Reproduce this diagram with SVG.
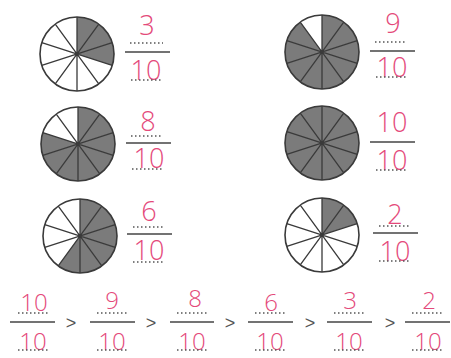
<svg xmlns="http://www.w3.org/2000/svg" width="451" height="358" viewBox="0 0 451 358">
<style>
.bg{fill:#fff}
.rim{fill:none;stroke:#3a3a3a;stroke-width:1.6}
.face{fill:#fff}
.sh{fill:#7b7b7b}
.sp{fill:none;stroke:#3a3a3a;stroke-width:1.3}
.bar{stroke:#444;stroke-width:1.6}
.dot{stroke:#555;stroke-width:1.6;stroke-dasharray:1.5 2.5}
.hw{font-family:"Open Sans",Lato,"DejaVu Sans",sans-serif;font-weight:300;fill:#e4497a;text-anchor:middle}
.big{font-size:27px}
.sm{font-size:24px}
.gt{font-family:"Liberation Sans",Arial,sans-serif;font-size:18px;fill:#555;text-anchor:middle}
</style>
<defs>
<path id="w" d="M0,0 L0,-37 A37,37 0 0 1 21.75,-29.93 Z"/>
<path id="spokes" d="M0,-37V37 M21.75,-29.93L-21.75,29.93 M35.19,-11.43L-35.19,11.43 M35.19,11.43L-35.19,-11.43 M21.75,29.93L-21.75,-29.93"/>
</defs>
<rect class="bg" x="0" y="0" width="451" height="358"/>

<g id="pie1" transform="translate(77,54)">
<circle class="face" r="37"/>
<use href="#w" class="sh"/><use href="#w" class="sh" transform="rotate(36)"/><use href="#w" class="sh" transform="rotate(72)"/>
<use href="#spokes" class="sp"/><circle class="rim" r="37"/>
</g>
<g id="pie2" transform="translate(322,52)">
<circle class="face" r="37"/>
<use href="#w" class="sh"/><use href="#w" class="sh" transform="rotate(36)"/><use href="#w" class="sh" transform="rotate(72)"/><use href="#w" class="sh" transform="rotate(108)"/><use href="#w" class="sh" transform="rotate(144)"/><use href="#w" class="sh" transform="rotate(180)"/><use href="#w" class="sh" transform="rotate(216)"/><use href="#w" class="sh" transform="rotate(252)"/><use href="#w" class="sh" transform="rotate(288)"/>
<use href="#spokes" class="sp"/><circle class="rim" r="37"/>
</g>
<g id="pie3" transform="translate(78,144)">
<circle class="face" r="37"/>
<use href="#w" class="sh"/><use href="#w" class="sh" transform="rotate(36)"/><use href="#w" class="sh" transform="rotate(72)"/><use href="#w" class="sh" transform="rotate(108)"/><use href="#w" class="sh" transform="rotate(144)"/><use href="#w" class="sh" transform="rotate(180)"/><use href="#w" class="sh" transform="rotate(216)"/><use href="#w" class="sh" transform="rotate(252)"/>
<use href="#spokes" class="sp"/><circle class="rim" r="37"/>
</g>
<g id="pie4" transform="translate(322,143)">
<circle class="sh" r="37"/>
<use href="#spokes" class="sp"/><circle class="rim" r="37"/>
</g>
<g id="pie5" transform="translate(80,236)">
<circle class="face" r="37"/>
<use href="#w" class="sh"/><use href="#w" class="sh" transform="rotate(36)"/><use href="#w" class="sh" transform="rotate(72)"/><use href="#w" class="sh" transform="rotate(108)"/><use href="#w" class="sh" transform="rotate(144)"/><use href="#w" class="sh" transform="rotate(180)"/>
<use href="#spokes" class="sp"/><circle class="rim" r="37"/>
</g>
<g id="pie6" transform="translate(322,235)">
<circle class="face" r="37"/>
<use href="#w" class="sh"/><use href="#w" class="sh" transform="rotate(36)"/>
<use href="#spokes" class="sp"/><circle class="rim" r="37"/>
</g>

<g id="frac1">
<text class="hw big" x="147" y="35">3</text>
<line class="dot" x1="130" y1="43" x2="163" y2="43"/>
<line class="bar" x1="125" y1="52" x2="170" y2="52"/>
<text class="hw big" x="146" y="80">10</text>
<line class="dot" x1="131" y1="80" x2="162" y2="80"/>
</g>
<g id="frac2">
<text class="hw big" x="393" y="33">9</text>
<line class="dot" x1="375" y1="42" x2="407" y2="42"/>
<line class="bar" x1="370" y1="51" x2="415" y2="51"/>
<text class="hw big" x="392" y="77">10</text>
<line class="dot" x1="376" y1="77" x2="407" y2="77"/>
</g>
<g id="frac3">
<text class="hw big" x="148" y="131">8</text>
<line class="dot" x1="131" y1="136" x2="163" y2="136"/>
<line class="bar" x1="126" y1="143" x2="171" y2="143"/>
<text class="hw big" x="149" y="168">10</text>
<line class="dot" x1="132" y1="169" x2="163" y2="169"/>
</g>
<g id="frac4">
<text class="hw big" x="392" y="132">10</text>
<line class="bar" x1="370" y1="142" x2="415" y2="142"/>
<text class="hw big" x="392" y="170">10</text>
<line class="dot" x1="376" y1="170" x2="407" y2="170"/>
</g>
<g id="frac5">
<text class="hw big" x="149" y="221">6</text>
<line class="dot" x1="133" y1="227" x2="164" y2="227"/>
<line class="bar" x1="127" y1="234" x2="172" y2="234"/>
<text class="hw big" x="149" y="260">10</text>
<line class="dot" x1="133" y1="262" x2="164" y2="262"/>
</g>
<g id="frac6">
<text class="hw big" x="395" y="224">2</text>
<line class="dot" x1="379" y1="226" x2="410" y2="226"/>
<line class="bar" x1="373" y1="233" x2="418" y2="233"/>
<text class="hw big" x="395" y="261">10</text>
<line class="dot" x1="379" y1="261" x2="410" y2="261"/>
</g>

<g id="order">
<g id="o1">
<text class="hw sm" x="34" y="311">10</text>
<line class="dot" x1="18" y1="313" x2="48" y2="313"/>
<line class="bar" x1="10" y1="322" x2="55" y2="322"/>
<text class="hw sm" x="33" y="350">10</text>
<line class="dot" x1="18" y1="350" x2="48" y2="350"/>
</g>
<text class="gt" x="71" y="329">&gt;</text>
<g id="o2">
<text class="hw sm" x="112" y="309">9</text>
<line class="dot" x1="97" y1="313" x2="127" y2="313"/>
<line class="bar" x1="90" y1="322" x2="135" y2="322"/>
<text class="hw sm" x="112" y="350">10</text>
<line class="dot" x1="97" y1="350" x2="127" y2="350"/>
</g>
<text class="gt" x="151" y="329">&gt;</text>
<g id="o3">
<text class="hw sm" x="195" y="307">8</text>
<line class="dot" x1="177" y1="313" x2="207" y2="313"/>
<line class="bar" x1="170" y1="322" x2="214" y2="322"/>
<text class="hw sm" x="192" y="350">10</text>
<line class="dot" x1="177" y1="350" x2="207" y2="350"/>
</g>
<text class="gt" x="230" y="329">&gt;</text>
<g id="o4">
<text class="hw sm" x="271" y="311">6</text>
<line class="dot" x1="255" y1="313" x2="285" y2="313"/>
<line class="bar" x1="248" y1="322" x2="293" y2="322"/>
<text class="hw sm" x="270" y="350">10</text>
<line class="dot" x1="255" y1="350" x2="285" y2="350"/>
</g>
<text class="gt" x="310" y="329">&gt;</text>
<g id="o5">
<text class="hw sm" x="350" y="309">3</text>
<line class="dot" x1="334" y1="313" x2="364" y2="313"/>
<line class="bar" x1="327" y1="322" x2="372" y2="322"/>
<text class="hw sm" x="349" y="350">10</text>
<line class="dot" x1="334" y1="350" x2="364" y2="350"/>
</g>
<text class="gt" x="390" y="329">&gt;</text>
<g id="o6">
<text class="hw sm" x="429" y="309">2</text>
<line class="dot" x1="412" y1="313" x2="442" y2="313"/>
<line class="bar" x1="405" y1="322" x2="450" y2="322"/>
<text class="hw sm" x="428" y="350">10</text>
<line class="dot" x1="412" y1="350" x2="442" y2="350"/>
</g>
</g>
</svg>
